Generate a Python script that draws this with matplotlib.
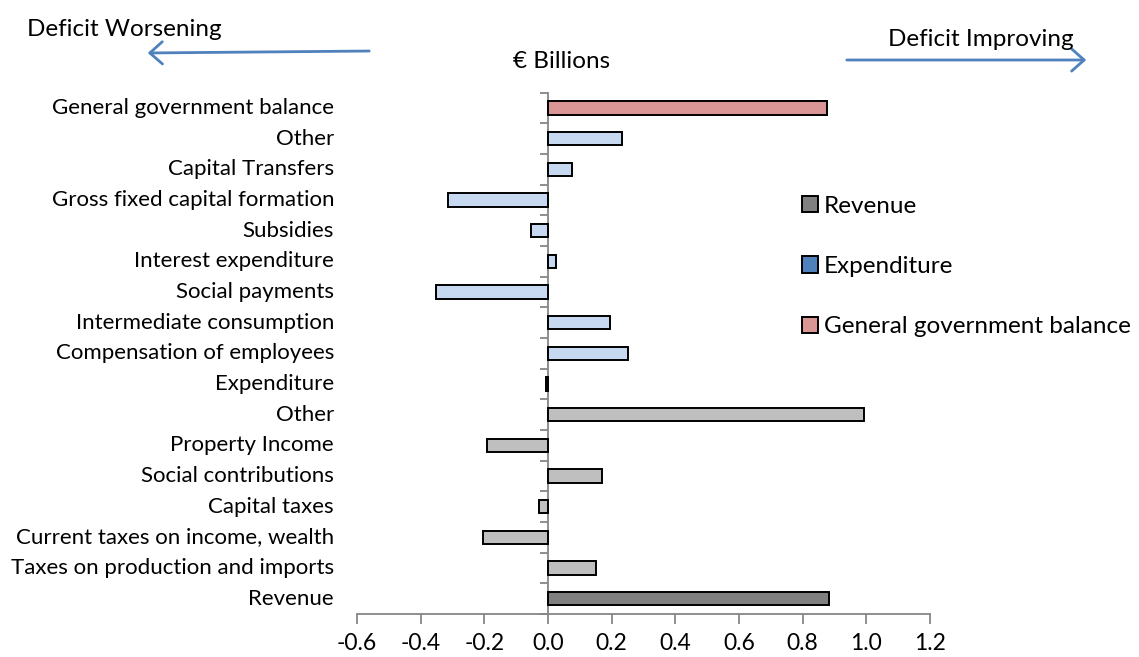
import matplotlib
matplotlib.use("Agg")
import matplotlib.pyplot as plt
from matplotlib.patches import Patch, FancyArrowPatch
from matplotlib.transforms import blended_transform_factory

plt.rcParams['font.family'] = ['Lato', 'DejaVu Sans']

# Categories listed bottom to top
categories = [
    "Revenue",
    "Taxes on production and imports",
    "Current taxes on income, wealth",
    "Capital taxes",
    "Social contributions",
    "Property Income",
    "Other",
    "Expenditure",
    "Compensation of employees",
    "Intermediate consumption",
    "Social payments",
    "Interest expenditure",
    "Subsidies",
    "Gross fixed capital formation",
    "Capital Transfers",
    "Other",
    "General government balance",
]
values = [0.884, 0.152, -0.204, -0.029, 0.169, -0.193, 0.993,
          -0.005, 0.252, 0.194, -0.351, 0.026, -0.053, -0.314, 0.076, 0.231,
          0.877]
groups = ["rev_total"] + ["rev"] * 6 + ["exp"] * 9 + ["ggb"]

bar_colors = {"rev_total": "#808080", "rev": "#BFBFBF",
              "exp": "#C6D9F1", "ggb": "#D99694"}
legend_labels = ["Revenue", "Expenditure", "General government balance"]
legend_colors = ["#808080", "#4F81BD", "#D99694"]

x_ticks = [-0.6, -0.4, -0.2, 0.0, 0.2, 0.4, 0.6, 0.8, 1.0, 1.2]

fig = plt.figure(figsize=(11.39, 6.57), dpi=100)
ax = fig.add_axes([0.3134, 0.0654, 0.8165 - 0.3134, 0.859 - 0.0654])

ypos = list(range(len(categories)))
ax.barh(ypos, values, height=0.44,
        color=[bar_colors[g] for g in groups],
        edgecolor="black", linewidth=1.4, zorder=3)

ax.set_xlim(-0.6, 1.2)
ax.set_ylim(-0.5, len(categories) - 0.5)
ax.set_xticks(x_ticks)
ax.set_xticklabels([f"{t:.1f}" for t in x_ticks], fontsize=16.5)
ax.tick_params(axis="x", direction="out", length=7, width=1.3,
               color="#868686", pad=7)

# Category boundaries carry the y ticks; labels drawn at the left edge
ax.set_yticks([i - 0.5 for i in range(len(categories) + 1)])
ax.set_yticklabels([])
ax.tick_params(axis="y", direction="out", length=6, width=1.3,
               color="#868686")

for s in ["top", "right"]:
    ax.spines[s].set_visible(False)
ax.spines["left"].set_position(("data", 0))
ax.spines["left"].set_color("#868686")
ax.spines["left"].set_linewidth(1.3)
ax.spines["bottom"].set_color("#868686")
ax.spines["bottom"].set_linewidth(1.3)

trans = blended_transform_factory(ax.transAxes, ax.transData)
for y, name in zip(ypos, categories):
    ax.text(-0.04, y, name, transform=trans, ha="right", va="center",
            fontsize=16)

handles = [Patch(facecolor=c, edgecolor="black", linewidth=1.4)
           for c in legend_colors]
fig.legend(handles, legend_labels, loc="upper left",
           bbox_to_anchor=(0.6955, 0.717), frameon=False, fontsize=17.5,
           handlelength=0.65, handleheight=0.65, handletextpad=0.25,
           labelspacing=1.62, borderaxespad=0)

# Direction annotations above the plot
fig.text(27 / 1139, 1 - 29 / 657, "Deficit Worsening", fontsize=17.5,
         ha="left", va="center")
fig.text(888 / 1139, 1 - 39 / 657, "Deficit Improving", fontsize=17.5,
         ha="left", va="center")
fig.text(562 / 1139, 1 - 62 / 657, "€ Billions", fontsize=17.5,
         ha="center", va="center")
arrow = dict(arrowstyle="->,head_length=0.45,head_width=0.4",
             color="#4F81BD", lw=2, mutation_scale=20)
fig.add_artist(FancyArrowPatch(
    (372 / 1139, 1 - 51 / 657), (145 / 1139, 1 - 53 / 657),
    transform=fig.transFigure, **arrow))
fig.add_artist(FancyArrowPatch(
    (844 / 1139, 1 - 60 / 657), (1089 / 1139, 1 - 60 / 657),
    transform=fig.transFigure, **arrow))

fig.savefig("out.png", dpi=100)
